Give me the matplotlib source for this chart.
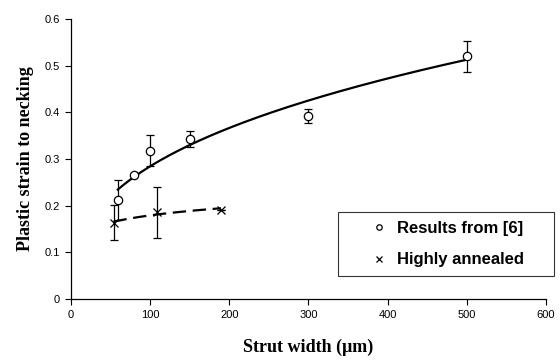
import matplotlib
matplotlib.use("Agg")
import matplotlib.pyplot as plt
import numpy as np

# Results from [6]
ref_x = np.array([59, 79, 100, 150, 299, 501])
ref_y = np.array([0.212, 0.266, 0.318, 0.343, 0.393, 0.520])
ref_err = np.array([0.043, 0.0, 0.033, 0.017, 0.015, 0.033])

# Highly annealed
ann_x = np.array([53.6, 108.5, 189.5])
ann_y = np.array([0.164, 0.186, 0.192])
ann_err = np.array([0.038, 0.055, 0.0])

x_ticks = [0, 100, 200, 300, 400, 500, 600]
y_ticks = [0, 0.1, 0.2, 0.3, 0.4, 0.5, 0.6]


def power_fit(x, y):
    # excel-style power trendline: fit in log-log space
    b, lna = np.polyfit(np.log(x), np.log(y), 1)
    xs = np.linspace(x.min(), x.max(), 200)
    return xs, np.exp(lna) * xs ** b


fig = plt.figure(figsize=(5.6, 3.6), dpi=100)
ax = fig.add_axes([0.127, 0.169, 0.8475, 0.778])

sans = ["Liberation Sans", "DejaVu Sans"]
serif = ["Liberation Serif", "DejaVu Serif"]

fx, fy = power_fit(ref_x, ref_y)
ax.plot(fx, fy, color="black", lw=1.6)
fx2, fy2 = power_fit(ann_x, ann_y)
ax.plot(fx2, fy2, color="black", lw=1.6, ls=(0, (6, 3)))

ax.errorbar(ref_x, ref_y, yerr=ref_err, fmt="o", mfc="white", mec="black",
            ms=6, mew=0.9, ecolor="black", elinewidth=0.9, capsize=3, capthick=0.9,
            label="Results from [6]", zorder=3)
ax.errorbar(ann_x, ann_y, yerr=ann_err, fmt="x", color="black",
            ms=6, mew=0.9, ecolor="black", elinewidth=0.9, capsize=3, capthick=0.9,
            label="Highly annealed", zorder=3)

ax.set_xlim(0, 600)
ax.set_ylim(0, 0.6)
ax.set_xticks(x_ticks)
ax.set_yticks(y_ticks)
ax.set_xticklabels([str(t) for t in x_ticks], family=sans, fontsize=8)
ax.set_yticklabels(["0" if t == 0 else f"{t:.1f}" for t in y_ticks], family=sans, fontsize=8)
ax.tick_params(direction="out", length=4, width=0.8, pad=4)
for side in ["top", "right"]:
    ax.spines[side].set_visible(False)
for side in ["left", "bottom"]:
    ax.spines[side].set_linewidth(0.9)

ax.set_xlabel("Strut width (\u03bcm)", family=serif, fontweight="bold", fontsize=13, labelpad=13)
ax.set_ylabel("Plastic strain to necking", family=serif, fontweight="bold", fontsize=13, labelpad=8)

handles, labels = ax.get_legend_handles_labels()
leg = fig.legend([h[0] for h in handles], labels, loc="upper left",
                 bbox_to_anchor=(0.603, 0.225, 0.386, 0.186), mode="expand",
                 borderaxespad=0, frameon=True, fancybox=False,
                 edgecolor="black", prop={"family": sans, "weight": "bold", "size": 12},
                 markerscale=0.65, handlelength=3.96, handletextpad=-0.94,
                 borderpad=0.52, labelspacing=1.0)
leg.get_frame().set_linewidth(0.8)

fig.savefig("out.png", dpi=100)
